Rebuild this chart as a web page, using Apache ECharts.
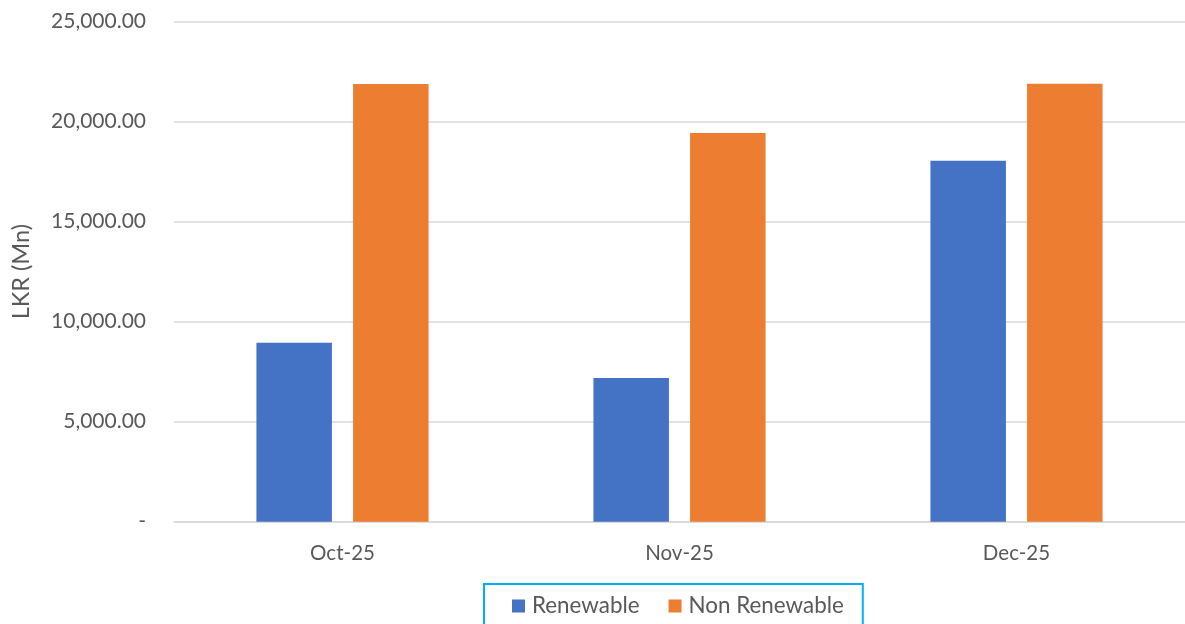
<!DOCTYPE html>
<html>
<head>
<meta charset="utf-8">
<script src="https://cdn.jsdelivr.net/npm/echarts@6/dist/echarts.min.js"></script>
<style>html,body{margin:0;padding:0;background:#fff}#c{width:1185px;height:624px}</style>
</head>
<body>
<div id="c"></div>
<script>
const categories = ['Oct-25', 'Nov-25', 'Dec-25'];
const renewable = [8950, 7185, 18050];
const nonRenewable = [21885, 19435, 21900];
const seriesNames = ['Renewable', 'Non Renewable'];
const yAxisName = 'LKR (Mn)';

const fmt = v => v === 0 ? '-' : v.toLocaleString('en-US', {minimumFractionDigits: 2, maximumFractionDigits: 2});
const font = 'Lato, "Open Sans", sans-serif';
const chart = echarts.init(document.getElementById('c'));
chart.setOption({
  animation: false,
  textStyle: {fontFamily: font},
  grid: {left: 174, right: -7, top: 21.7, bottom: 102.3, containLabel: false},
  legend: {
    data: seriesNames,
    left: 484, top: 584,
    itemWidth: 13, itemHeight: 13, itemGap: 29,
    icon: 'rect',
    borderColor: '#00B0F0', borderWidth: 2,
    padding: [11, 19, 40, 28],
    textStyle: {fontSize: 22.4, color: '#595959', fontFamily: font, padding: [0, 0, 0, 2]}
  },
  xAxis: {
    type: 'category', data: categories,
    axisLine: {lineStyle: {color: '#D9D9D9', width: 1.5}},
    axisTick: {show: false},
    axisLabel: {fontSize: 20.5, color: '#595959', margin: 21, fontFamily: font}
  },
  yAxis: {
    type: 'value', min: 0, max: 25000, interval: 5000,
    name: yAxisName, nameLocation: 'middle', nameGap: 141, nameRotate: 90,
    nameTextStyle: {fontSize: 23.5, color: '#595959', fontFamily: font},
    axisLine: {show: false}, axisTick: {show: false},
    splitLine: {lineStyle: {color: '#D9D9D9', width: 1.5}},
    axisLabel: {fontSize: 21, color: '#595959', margin: 28, formatter: fmt, fontFamily: font}
  },
  series: [
    {name: seriesNames[0], type: 'bar', data: renewable, barWidth: 75.5, barGap: '28%', itemStyle: {color: '#4472C4'}},
    {name: seriesNames[1], type: 'bar', data: nonRenewable, barWidth: 75.5, itemStyle: {color: '#ED7D31'}}
  ]
});
</script>
</body>
</html>
